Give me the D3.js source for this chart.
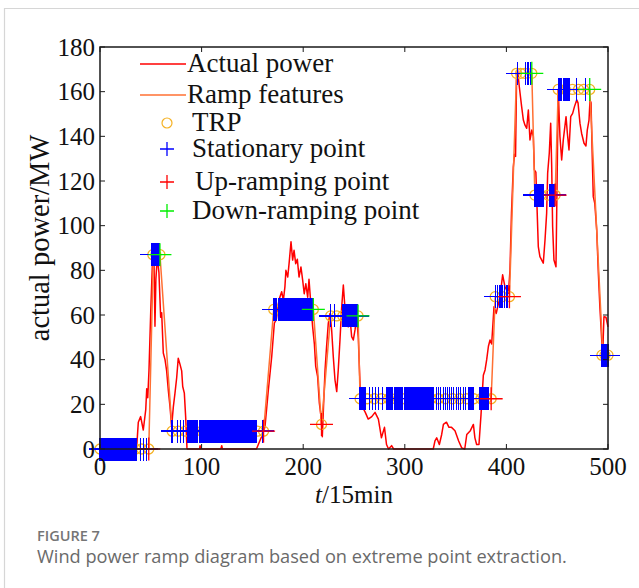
<!DOCTYPE html>
<html>
<head>
<meta charset="utf-8">
<script src="https://cdn.jsdelivr.net/npm/d3@7"></script>
<style>
  body { margin: 0; background: #fff; }
  svg { display: block; }
</style>
</head>
<body>
<div id="chart"></div>
<script>
// actual power (t, MW)
const powerT = [0, 36, 37.7, 40, 42.6, 45, 46, 47, 48.2, 49.9, 51.5, 53, 54.1, 55, 56.4, 58, 59.7, 60.7, 62.3, 64, 65.6, 67.3, 68.9, 70.5, 72.2, 73.8, 75.5, 77, 78.7, 80.4, 81.4, 83, 84.3, 85.6, 86, 98, 98.5, 99, 119, 119.8, 120.5, 154, 159, 162.4, 165.7, 169, 171.6, 173.6, 175.5, 177, 178.8, 180.5, 182, 183, 184.8, 186.3, 188, 189.6, 191, 192.6, 194.2, 195.9, 197.8, 199.5, 201, 202.6, 204.4, 205.7, 207.7, 209.3, 211, 212.3, 214.2, 215.9, 217.5, 218.8, 220, 221.5, 223, 224.7, 226.4, 228, 229.6, 231.3, 233, 234.5, 236.2, 237.9, 239.5, 241, 242.8, 244.4, 246, 247.7, 249.3, 251, 252.6, 254.2, 256, 257.5, 261, 264, 267.5, 270.7, 274, 277, 280, 282, 284, 287, 289, 328, 329.7, 331.4, 334, 336.3, 338, 341, 343.5, 346, 349.4, 353, 356, 359, 361, 364.5, 367.5, 369, 370.7, 373, 375, 377.3, 379, 380.6, 382.3, 383.9, 385.5, 387.8, 390, 393.7, 396.3, 398.6, 402, 403.5, 405, 406.8, 408, 409, 410, 411, 412.7, 415, 416.7, 418.3, 420, 421.6, 423.2, 425, 426.5, 427.5, 429, 429.8, 431.4, 433, 436.3, 438, 439.6, 440.6, 442.2, 443.6, 444.6, 445.5, 446.8, 448.8, 450, 451, 452.7, 454.4, 456, 458.7, 460, 461.6, 463.3, 465.2, 467, 469.2, 470.5, 472.4, 474, 476.4, 478.3, 479.6, 481.3, 482.3, 483.3, 484.5, 485.5, 487, 488.9, 490.5, 492, 493.8, 494.8, 496, 498, 500];
const powerV = [0, 0, 12, 14.5, 8.5, 17.5, 27, 23, 35, 61, 82, 88, 55, 76, 86, 79, 59, 61, 43, 40, 35, 26, 19, 10, 19, 25, 32, 40.6, 38, 35, 28, 25, 14.5, 0.5, 0, 0, 1.5, 0, 0, 1.5, 0, 0, 5.5, 10, 26.4, 41.3, 56.3, 58, 65, 68, 70.4, 66.6, 72.6, 80, 77, 84, 92.8, 84.6, 89, 83, 85, 77, 81.5, 75.5, 69.5, 74, 68, 76, 63.7, 54.7, 47, 37, 32.4, 20.5, 14.6, 5.5, 19, 35.4, 45.8, 56.3, 60.7, 53.3, 41.4, 30.9, 25.7, 35.4, 48.8, 63.7, 73.4, 63.7, 60.7, 54.7, 59, 50.3, 48.8, 53.3, 59, 50, 28, 19.5, 16.5, 13.4, 14.5, 16.4, 13.4, 5, 9.7, 2, 0, 1.5, 0, 0, 3.6, 5, 2, 6.5, 11, 12, 9.7, 9.7, 8.2, 3.6, 0.5, 0, 6.5, 8.2, 11, 5, 2, 2, 15.3, 33, 35.4, 40, 46, 48.8, 47, 63.7, 60.7, 68.2, 78, 72.6, 69.7, 80, 105.5, 126.4, 132, 131, 165.3, 169.8, 162.2, 153.3, 147.3, 145, 143.6, 151.8, 138.4, 142.8, 140, 125, 124, 113, 90.6, 86.1, 83.2, 93.6, 105.5, 123.5, 132.4, 145.9, 126, 99.6, 84.6, 81.6, 123.5, 160.8, 139.9, 129.4, 138.4, 148.8, 141.4, 133.9, 148.8, 150.3, 153.3, 156.3, 155, 145.9, 141.4, 136.9, 135.7, 142.8, 147.3, 156.3, 155, 130.9, 113, 110, 98, 78.7, 63.7, 48.8, 42.8, 59.2, 59, 54.7];

// ramp feature polyline
const rampT = [0, 48, 52.5, 59, 71, 161, 171, 210, 218, 227, 254, 256, 385, 389, 403, 410, 425, 428, 448, 451, 482, 495, 500];
const rampV = [0, 0, 87, 87, 8, 8, 62.5, 62.5, 11, 59.6, 59.6, 22.5, 22.5, 68.2, 68.2, 168.2, 168.2, 113.7, 113.7, 161, 161, 42, 42];

// TRP points
const trpT = [0, 7, 14, 21, 28, 35, 41, 48, 52, 55, 59, 71, 77, 84, 92, 100, 108, 116, 124, 132, 140, 148, 155, 161, 171, 177, 184, 190, 197, 204, 210, 218, 227, 233, 239, 246, 254, 256, 263, 270, 277, 284, 291, 298, 305, 312, 319, 326, 333, 340, 347, 354, 361, 368, 375, 380, 385, 389, 396, 403, 410, 414, 418, 425, 428, 434, 441, 448, 451, 458, 465, 471, 476, 482, 494, 497, 500];
const trpV = [0, 0, 0, 0, 0, 0, 0, 0, 87, 87, 87, 8, 8, 8, 8, 8, 8, 8, 8, 8, 8, 8, 8, 8, 62.5, 62.5, 62.5, 62.5, 62.5, 62.5, 62.5, 11, 59.6, 59.6, 59.6, 59.6, 59.6, 22.5, 22.5, 22.5, 22.5, 22.5, 22.5, 22.5, 22.5, 22.5, 22.5, 22.5, 22.5, 22.5, 22.5, 22.5, 22.5, 22.5, 22.5, 22.5, 22.5, 68.2, 68.2, 68.2, 168.2, 168.2, 168.2, 168.2, 113.7, 113.7, 113.7, 113.7, 161, 161, 161, 161, 161, 161, 42, 42, 42];

// stationary points: runs of time steps [from, to] at a level
const statFrom  = [0, 6, 9, 40, 43, 46, 51, 71, 76, 79, 82, 86, 98, 121, 160, 171, 176, 180, 184, 190, 198, 227, 231, 239, 244, 248, 256, 265, 268, 271, 274, 278, 282, 290, 300, 331, 333, 335, 338, 340, 342, 344, 346, 348, 351, 353, 355, 358, 360, 363, 365, 367, 374, 376, 378, 380, 382, 389, 391, 393, 398, 400, 411, 419, 421, 424, 428, 443, 451, 456, 469, 478, 494];
const statTo    = [4, 7, 36, 40, 43, 46, 58, 71, 76, 79, 82, 96, 119, 154, 160, 174, 178, 182, 188, 196, 209, 227, 231, 242, 246, 253, 261, 265, 268, 271, 274, 278, 288, 298, 328, 331, 333, 335, 338, 340, 342, 344, 346, 348, 351, 353, 355, 358, 360, 363, 365, 367, 374, 376, 378, 380, 382, 389, 391, 396, 398, 401, 411, 419, 422, 424, 436, 447, 454, 462, 469, 478, 500];
const statLevel = [0, 0, 0, 0, 0, 0, 87, 8, 8, 8, 8, 8, 8, 8, 8, 62.5, 62.5, 62.5, 62.5, 62.5, 62.5, 59.6, 59.6, 59.6, 59.6, 59.6, 22.5, 22.5, 22.5, 22.5, 22.5, 22.5, 22.5, 22.5, 22.5, 22.5, 22.5, 22.5, 22.5, 22.5, 22.5, 22.5, 22.5, 22.5, 22.5, 22.5, 22.5, 22.5, 22.5, 22.5, 22.5, 22.5, 22.5, 22.5, 22.5, 22.5, 22.5, 68.2, 68.2, 68.2, 68.2, 68.2, 168.2, 168.2, 168.2, 168.2, 113.7, 113.7, 161, 161, 161, 161, 42];

const upT = [48, 161, 218, 385, 403, 448];
const upV = [0, 8, 11, 22.5, 68.2, 113.7];
const downT = [59, 210, 254, 425, 482];
const downV = [87, 62.5, 59.6, 168.2, 161];

const xTicks = [0, 100, 200, 300, 400, 500];
const yTicks = [0, 20, 40, 60, 80, 100, 120, 140, 160, 180];

const legendItems = ["Actual power", "Ramp features", "TRP", "Stationary point", "Up-ramping point", "Down-ramping point"];

const W = 639, H = 588;
const serif = "'Liberation Serif', 'Times New Roman', serif";
const cRed = "#ff0000", cRamp = "#ff7033", cTrp = "#f5b225", cBlue = "#0000ff", cGreen = "#00ee00";

const svg = d3.select("#chart").append("svg")
    .attr("width", W).attr("height", H);

// figure frame
svg.append("path")
    .attr("d", "M4.5,588 V8.5 H639")
    .attr("fill", "none").attr("stroke", "#d6d6d6").attr("stroke-width", 1.2);

const x = d3.scaleLinear().domain([0, 500]).range([100, 608]);
const y = d3.scaleLinear().domain([0, 180]).range([449, 47]);

// data
const power = powerT.map((t, i) => ({ t: t, v: powerV[i] }));
const ramp = rampT.map((t, i) => ({ t: t, v: rampV[i] }));
const trp = trpT.map((t, i) => ({ t: t, v: trpV[i] }));
let stationary = [];
statFrom.forEach((f, i) => {
    for (let t = f; t <= statTo[i]; t++) stationary.push({ t: t, v: statLevel[i] });
});
const ups = upT.map((t, i) => ({ t: t, v: upV[i] }));
const downs = downT.map((t, i) => ({ t: t, v: downV[i] }));

const line = d3.line().x(d => x(d.t)).y(d => y(d.v));

svg.append("path").datum(power)
    .attr("fill", "none").attr("stroke", cRed).attr("stroke-width", 1.5)
    .attr("stroke-linejoin", "round").attr("d", line);

svg.append("path").datum(ramp)
    .attr("fill", "none").attr("stroke", cRamp).attr("stroke-width", 1.5)
    .attr("d", line);

svg.append("g").selectAll("circle").data(trp).enter().append("circle")
    .attr("cx", d => x(d.t)).attr("cy", d => y(d.v)).attr("r", 5)
    .attr("fill", "none").attr("stroke", cTrp).attr("stroke-width", 1.3);

function plus(sel, data, color, size, width, crisp) {
    sel.append("g").selectAll("path").data(data).enter().append("path")
        .attr("d", d => {
            const px = x(d.t), py = y(d.v);
            return `M${px - size},${py}H${px + size}M${px},${py - size}V${py + size}`;
        })
        .attr("shape-rendering", crisp ? "crispEdges" : null)
        .attr("fill", "none").attr("stroke", color).attr("stroke-width", width);
}
plus(svg, stationary, cBlue, 11.5, 1.4, true);
plus(svg, ups, cRed, 11.5, 1.3, false);
plus(svg, downs, cGreen, 11.5, 1.3, false);

// axes box (MATLAB style, ticks inward)
const axis = svg.append("g").attr("stroke", "#1a1a1a").attr("fill", "none");
axis.append("rect").attr("x", 100).attr("y", 47).attr("width", 508).attr("height", 402)
    .attr("stroke-width", 1.5);
xTicks.forEach(t => {
    axis.append("path").attr("d", `M${x(t)},449v-5M${x(t)},47v5`).attr("stroke-width", 1);
});
yTicks.forEach(v => {
    axis.append("path").attr("d", `M100,${y(v)}h5M608,${y(v)}h-5`).attr("stroke-width", 1);
});

svg.append("g").selectAll("text").data(xTicks).enter().append("text")
    .attr("x", d => x(d)).attr("y", 475)
    .attr("text-anchor", "middle")
    .style("font-family", serif).style("font-size", "25px").attr("fill", "#111")
    .text(d => d);

svg.append("g").selectAll("text").data(yTicks).enter().append("text")
    .attr("x", 95).attr("y", d => y(d)).attr("dy", "0.35em")
    .attr("text-anchor", "end")
    .style("font-family", serif).style("font-size", "25px").attr("fill", "#111")
    .text(d => d);

// axis titles
const xt = svg.append("text")
    .attr("x", 354).attr("y", 503).attr("text-anchor", "middle")
    .style("font-family", serif).style("font-size", "25px").attr("fill", "#111");
xt.append("tspan").style("font-style", "italic").text("t");
xt.append("tspan").text("/15min");

svg.append("text")
    .attr("transform", "translate(49,238) rotate(-90)")
    .attr("text-anchor", "middle")
    .style("font-family", serif).style("font-size", "28.5px").attr("fill", "#111")
    .text("actual power/MW");

// legend
const legY = [64, 95, 123, 149, 182, 211];
const lg = svg.append("g");
lg.append("line").attr("x1", 140).attr("x2", 186).attr("y1", legY[0]).attr("y2", legY[0])
    .attr("stroke", cRed).attr("stroke-width", 1.5);
lg.append("line").attr("x1", 140).attr("x2", 186).attr("y1", legY[1]).attr("y2", legY[1])
    .attr("stroke", cRamp).attr("stroke-width", 1.5);
lg.append("circle").attr("cx", 167).attr("cy", legY[2]).attr("r", 5)
    .attr("fill", "none").attr("stroke", cTrp).attr("stroke-width", 1.2);
[[cBlue, 3], [cRed, 4], [cGreen, 5]].forEach(([c, i]) => {
    lg.append("path").attr("d", `M160,${legY[i]}h14M167,${legY[i] - 7}v14`)
        .attr("stroke", c).attr("stroke-width", 1.3);
});
const legX = [187, 187, 192, 192, 195, 192];
lg.selectAll("text").data(legendItems).enter().append("text")
    .attr("x", (d, i) => legX[i]).attr("y", (d, i) => legY[i]).attr("dy", "0.3em")
    .style("font-family", serif).style("font-size", "27px").attr("fill", "#111")
    .text(d => d);

// caption
svg.append("text").attr("x", 37).attr("y", 541)
    .style("font-family", "'Open Sans', sans-serif").style("font-size", "14.5px")
    .style("font-weight", 600).attr("fill", "#757575")
    .text("FIGURE 7");
svg.append("text").attr("x", 37).attr("y", 563)
    .style("font-family", "'Open Sans', sans-serif").style("font-size", "18.2px")
    .attr("fill", "#6a6a6a")
    .text("Wind power ramp diagram based on extreme point extraction.");
</script>
</body>
</html>
